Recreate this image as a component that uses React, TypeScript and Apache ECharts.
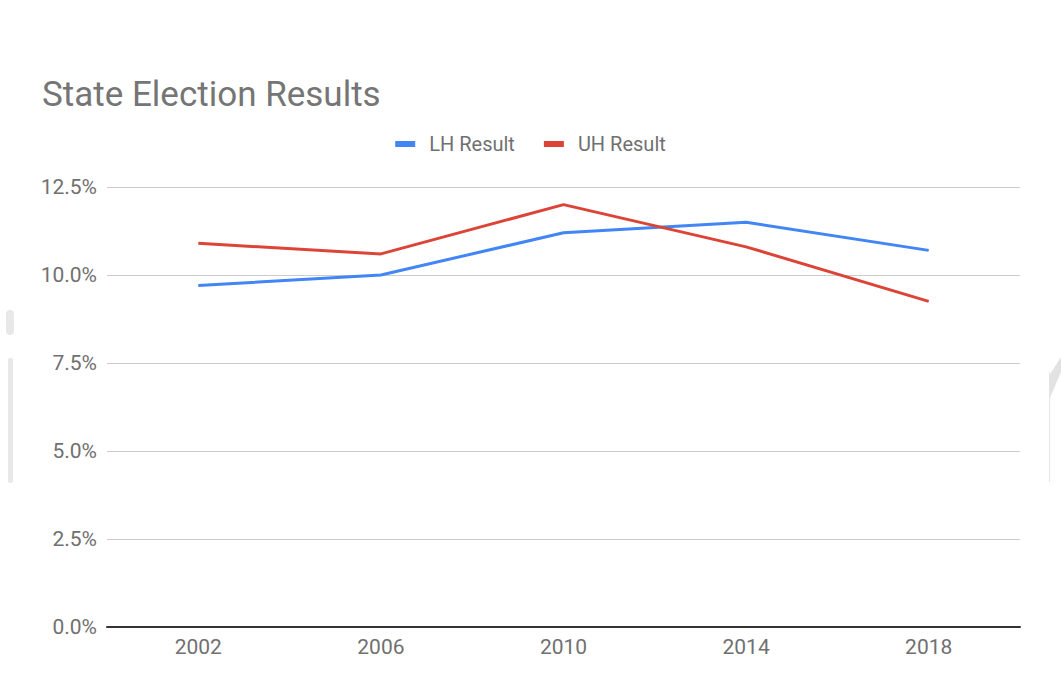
import React, { useEffect, useRef } from "react";
import * as echarts from "echarts";

const categories = ["2002", "2006", "2010", "2014", "2018"];
const lhResult = [9.7, 10.0, 11.2, 11.5, 10.7];
const uhResult = [10.9, 10.6, 12.0, 10.8, 9.25];
const yTicks = { min: 0, max: 12.5, interval: 2.5 };

export default function App() {
  const ref = useRef<HTMLDivElement>(null);
  useEffect(() => {
    document.body.style.margin = "0";
    const chart = echarts.init(ref.current!, null, { renderer: "svg" });
    const font = "Roboto, 'Noto Sans', sans-serif";
    const labelColor = "#707070";
    chart.setOption({
      animation: false,
      backgroundColor: "#ffffff",
      title: {
        text: "State Election Results",
        left: 42,
        top: 77,
        padding: 0,
        textStyle: { fontFamily: font, fontSize: 35, fontWeight: "normal", color: "#757575" },
      },
      legend: {
        top: 129,
        left: "center",
        itemWidth: 20,
        itemHeight: 6,
        itemGap: 29,
        icon: "rect",
        textStyle: { fontFamily: font, fontSize: 20, color: labelColor, padding: [0, 0, 0, 9] },
        data: ["LH Result", "UH Result"],
      },
      grid: { left: 107, right: 41, top: 187, bottom: 66, containLabel: false },
      xAxis: {
        type: "category",
        data: categories,
        boundaryGap: true,
        axisLine: { lineStyle: { color: "#333333", width: 2 } },
        axisTick: { show: false },
        axisLabel: { fontFamily: font, fontSize: 21, color: labelColor, margin: 9 },
      },
      yAxis: {
        type: "value",
        min: yTicks.min,
        max: yTicks.max,
        interval: yTicks.interval,
        axisLine: { show: false },
        axisTick: { show: false },
        splitLine: { lineStyle: { color: "#cccccc", width: 1 } },
        axisLabel: {
          fontFamily: font,
          fontSize: 21,
          color: labelColor,
          margin: 10,
          formatter: (v: number) => v.toFixed(1) + "%",
        },
      },
      series: [
        {
          name: "LH Result",
          type: "line",
          data: lhResult,
          showSymbol: false,
          symbol: "none",
          itemStyle: { color: "#4285F4" },
          lineStyle: { color: "#4285F4", width: 3 },
        },
        {
          name: "UH Result",
          type: "line",
          data: uhResult,
          showSymbol: false,
          symbol: "none",
          itemStyle: { color: "#DB4437" },
          lineStyle: { color: "#DB4437", width: 3 },
        },
      ],
      graphic: [
        { type: "rect", shape: { x: 6, y: 310, width: 8, height: 25, r: 4 }, style: { fill: "#e8e8e8" }, silent: true },
        { type: "rect", shape: { x: 8, y: 358, width: 5, height: 125, r: 2 }, style: { fill: "#e8e8e8" }, silent: true },
        { type: "line", shape: { x1: 1049.5, y1: 372, x2: 1049.5, y2: 482 }, style: { stroke: "#e6e6e6", lineWidth: 1 }, silent: true },
        { type: "polygon", shape: { points: [[1049, 376], [1061, 357], [1061, 372], [1050, 398]] }, style: { fill: "#e2e2e2" }, silent: true },
      ],
    });
    return () => chart.dispose();
  }, []);
  return <div ref={ref} style={{ width: 1061, height: 693 }} />;
}
